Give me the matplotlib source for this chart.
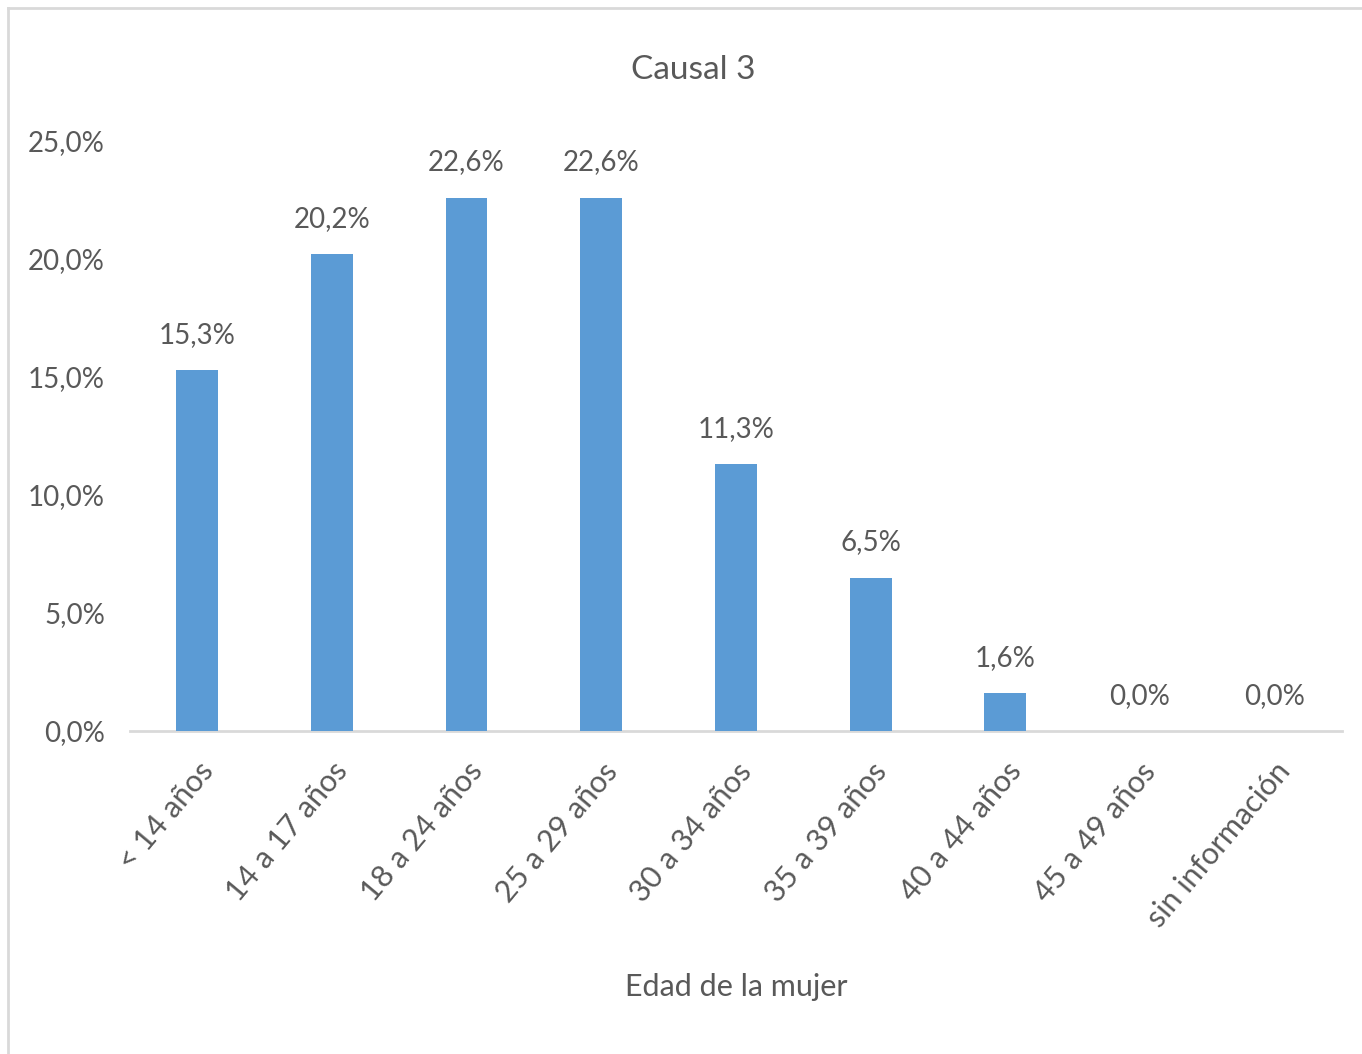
import matplotlib
matplotlib.use("Agg")
import matplotlib.pyplot as plt
from matplotlib.lines import Line2D

plt.rcParams['font.family'] = ['Lato', 'DejaVu Sans']

# datos
categorias = ['< 14 años', '14 a 17 años', '18 a 24 años', '25 a 29 años',
              '30 a 34 años', '35 a 39 años', '40 a 44 años', '45 a 49 años',
              'sin información']
porcentajes = [15.3, 20.2, 22.6, 22.6, 11.3, 6.5, 1.6, 0.0, 0.0]
yticks = [0, 5, 10, 15, 20, 25]

gris = '#595959'
azul = '#5B9BD5'

fig = plt.figure(figsize=(13.62, 10.54), dpi=100)
ax = fig.add_axes([0.0954, 0.3065, 0.8899, 0.5597])

x = range(len(categorias))
ax.bar(x, porcentajes, width=0.31, color=azul, zorder=3)

for xi, v in zip(x, porcentajes):
    ax.annotate(f"{v:.1f}%".replace('.', ','), (xi, v), xytext=(0, 16),
                textcoords='offset points', ha='center', va='bottom',
                fontsize=20, color=gris)

ax.set_xlim(-0.5, 8.5)
ax.set_ylim(0, 25)
ax.set_yticks(yticks)
ax.set_yticklabels([f"{t:.1f}%".replace('.', ',') for t in yticks], fontsize=20, color=gris)
ax.set_xticks(list(x))
ax.set_xticklabels(categorias, rotation=50, ha='right', rotation_mode='anchor',
                   fontsize=22, color=gris)
ax.tick_params(axis='both', length=0)
ax.tick_params(axis='y', pad=18)
ax.tick_params(axis='x', pad=19)

for s in ['top', 'right', 'left']:
    ax.spines[s].set_visible(False)
ax.spines['bottom'].set_color('#D9D9D9')
ax.spines['bottom'].set_linewidth(2)

ax.set_xlabel("Edad de la mujer", fontsize=22, color=gris, va='center')
ax.xaxis.set_label_coords(0.5, -0.434)
fig.text(0.509, 0.934, "Causal 3", ha='center', va='center', fontsize=24, color=gris)

# marco del gráfico
fig.add_artist(Line2D([8/1362, 8/1362], [0, 1 - 8/1054], transform=fig.transFigure,
                      color='#D9D9D9', lw=2))
fig.add_artist(Line2D([8/1362, 1], [1 - 8/1054, 1 - 8/1054], transform=fig.transFigure,
                      color='#D9D9D9', lw=2))

fig.savefig("out.png", dpi=100)
